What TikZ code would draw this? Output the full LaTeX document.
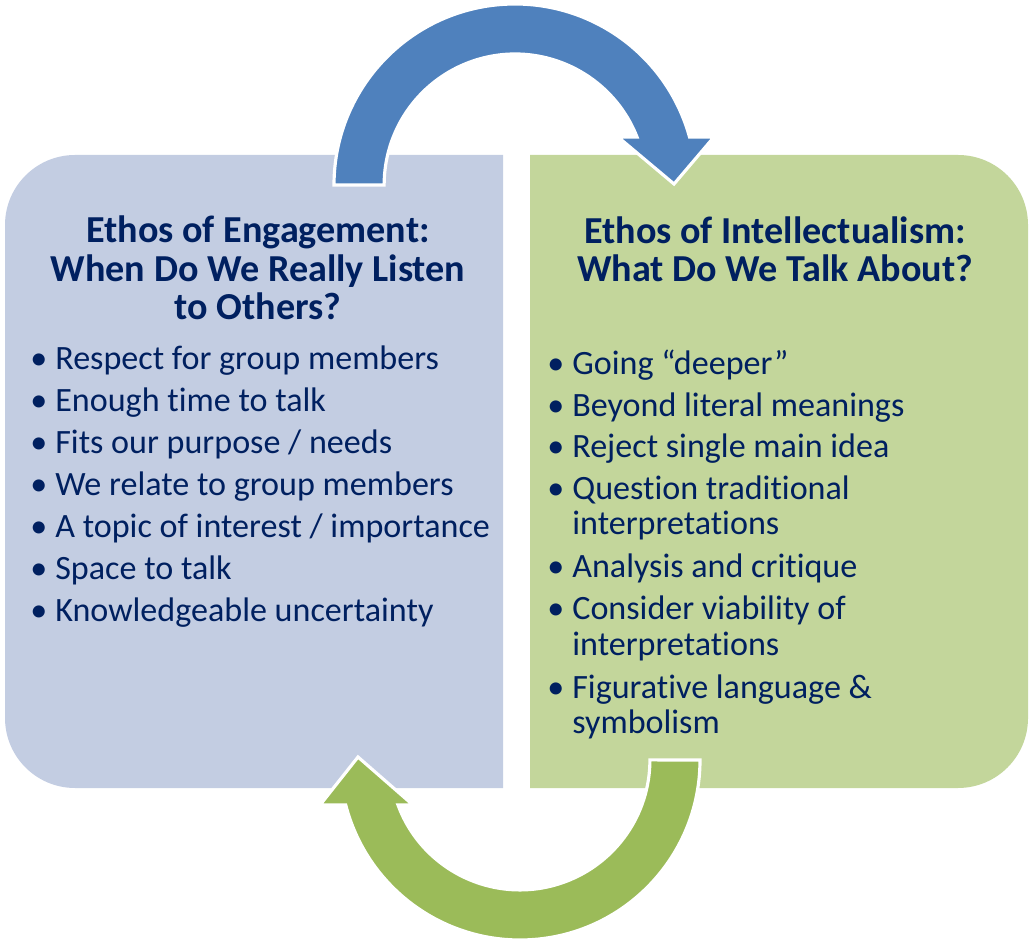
\documentclass[tikz,border=0pt]{standalone}
\usepackage{fontspec}
\setmainfont{Carlito}[Ligatures={TeX,NoCommon}]
\usepackage{xcolor}
\definecolor{cengage}{HTML}{C3CDE2}
\definecolor{cintel}{HTML}{C3D69B}
\definecolor{carrowb}{HTML}{4F81BD}
\definecolor{carrowg}{HTML}{9BBB59}
\definecolor{cnavy}{HTML}{002060}
\newcommand{\bul}{\makebox[0.5cm][l]{\textbullet}}
\tikzset{
  head/.style={font=\bfseries\fontsize{21.7}{21.8}\selectfont, text=cnavy, align=center, inner sep=0pt},
  itemn/.style={font=\fontsize{19.4}{20}\selectfont, text=cnavy, anchor=base west, inner sep=0pt},
  cyc/.style={draw=white, line width=1.8pt, line join=miter},
}
\begin{document}
\begin{tikzpicture}[x=0.02cm,y=0.02cm]
\useasboundingbox (0,0) rectangle (1033,943);
% the two panels
\fill[cengage] (503,155) -- (503,788) -- (75,788) arc[start angle=90,end angle=180,radius=70] -- (5,225) arc[start angle=180,end angle=270,radius=70] -- cycle;
\fill[cintel] (530,155) -- (530,788) -- (958,788) arc[start angle=90,end angle=0,radius=70] -- (1028,225) arc[start angle=0,end angle=-90,radius=70] -- cycle;
% cycle arrows
\filldraw[cyc, fill=carrowb] (334,758) arc[start angle=180,end angle=15.4,radius=181] -- (714,806) -- (674,759) -- (618,806) -- (637,806) arc[start angle=21.5,end angle=180,radius=131] -- cycle;
\filldraw[cyc, fill=carrowg] (700,183) arc[start angle=0,end angle=-165.5,radius=180] -- (320,138) -- (358,186) -- (413,138) -- (398,138) arc[start angle=200.3,end angle=360,radius=130] -- cycle;
% titles
\node[head] (lt) at (258,675) {Ethos of Engagement:\\When Do We Really Listen\\to Others?};
\node[head] (rt) at (775,694) {Ethos of Intellectualism:\\What Do We Talk About?};
% left list
\node[itemn] (l1) at (30,573) {\bul Respect for group members};
\node[itemn] (l2) at (30,531) {\bul Enough time to talk};
\node[itemn] (l3) at (30,489) {\bul Fits our purpose / needs};
\node[itemn] (l4) at (30,447) {\bul We relate to group members};
\node[itemn] (l5) at (30,405) {\bul A topic of interest / importance};
\node[itemn] (l6) at (30,363) {\bul Space to talk};
\node[itemn] (l7) at (30,321) {\bul Knowledgeable uncertainty};
% right list
\node[itemn] (r1) at (547,568) {\bul Going “deeper”};
\node[itemn] (r2) at (547,526) {\bul Beyond literal meanings};
\node[itemn] (r3) at (547,485) {\bul Reject single main idea};
\node[itemn] (r4) at (547,443) {\bul Question traditional};
\node[itemn] (r4b) at (572,408) {interpretations};
\node[itemn] (r5) at (547,365) {\bul Analysis and critique};
\node[itemn] (r6) at (547,323) {\bul Consider viability of};
\node[itemn] (r6b) at (572,288) {interpretations};
\node[itemn] (r7) at (547,245) {\bul Figurative language \&};
\node[itemn] (r7b) at (572,210) {symbolism};
\end{tikzpicture}
\end{document}
